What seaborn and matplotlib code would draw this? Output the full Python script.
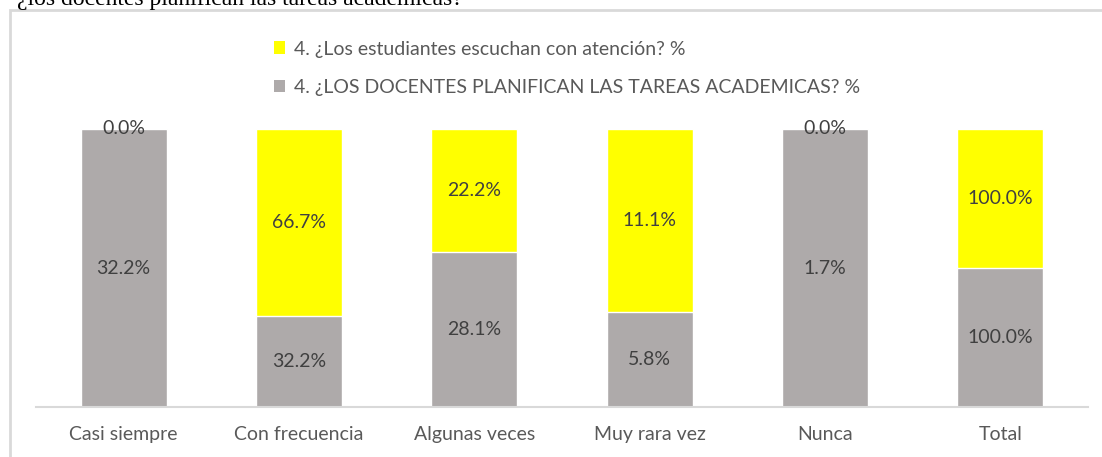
import numpy as np
import pandas as pd
import seaborn as sns
import matplotlib.pyplot as plt
from matplotlib.patches import Rectangle, Patch

categories = ["Casi siempre", "Con frecuencia", "Algunas veces", "Muy rara vez", "Nunca", "Total"]
docentes = [32.2, 32.2, 28.1, 5.8, 1.7, 100.0]
estudiantes = [0.0, 66.7, 22.2, 11.1, 0.0, 100.0]
serie_est = "4. ¿Los estudiantes escuchan con atención? %"
serie_doc = "4. ¿LOS DOCENTES PLANIFICAN LAS TAREAS ACADEMICAS? %"

gris = "#AEAAAA"
amarillo = "#FFFF00"

df = pd.DataFrame({"cat": categories, "doc": docentes, "est": estudiantes})
# apilado al 100%
df["doc_frac"] = df["doc"] / (df["doc"] + df["est"])
df["total"] = 1.0

sns.set_style("white")
plt.rcParams["font.family"] = ["Lato", "DejaVu Sans"]

fig = plt.figure(figsize=(11.02, 4.57), dpi=100)
ax = fig.add_axes([36 / 1102, 1 - 407 / 457, 1052 / 1102, 278 / 457])

sns.barplot(data=df, x="cat", y="total", color=amarillo, width=0.49, saturation=1, ax=ax)
sns.barplot(data=df, x="cat", y="doc_frac", color=gris, width=0.49, saturation=1, ax=ax)

for i, row in df.iterrows():
    ax.text(i, row["doc_frac"] / 2, f"{row['doc']:.1f}%", ha="center", va="center",
            fontsize=14, color="#404040")
    ax.text(i, row["doc_frac"] + (1 - row["doc_frac"]) / 2, f"{row['est']:.1f}%",
            ha="center", va="center", fontsize=14, color="#404040")

ax.set_ylim(0, 1)
ax.set_xlim(-0.5, len(categories) - 0.5)
ax.set_xlabel("")
ax.set_ylabel("")
ax.set_yticks([])
ax.tick_params(axis="x", length=0, pad=14, labelsize=14, labelcolor="#595959")
for s in ["top", "left", "right"]:
    ax.spines[s].set_visible(False)
ax.spines["bottom"].set_color("#D9D9D9")
ax.spines["bottom"].set_linewidth(1.5)

handles = [Patch(facecolor=amarillo, edgecolor="none", label=serie_est),
           Patch(facecolor=gris, edgecolor="none", label=serie_doc)]
fig.legend(handles=handles, loc="upper left", bbox_to_anchor=(256 / 1102, 1 - 23 / 457),
           frameon=False, fontsize=14, labelcolor="#595959", handlelength=0.6,
           handleheight=0.6, handletextpad=0.45, labelspacing=1.1)

# marco del área del gráfico y título recortado
fig.patches.append(Rectangle((10 / 1102, -0.1), 1.1, 1.1 - 10 / 457, transform=fig.transFigure,
                             facecolor="none", edgecolor="#D9D9D9", linewidth=2))
fig.text(17 / 1102, 1 - 5 / 457, "¿los docentes planifican las tareas académicas?",
         family="Liberation Serif", fontsize=17, va="baseline", ha="left", color="black")

fig.savefig("out.png", dpi=100)
